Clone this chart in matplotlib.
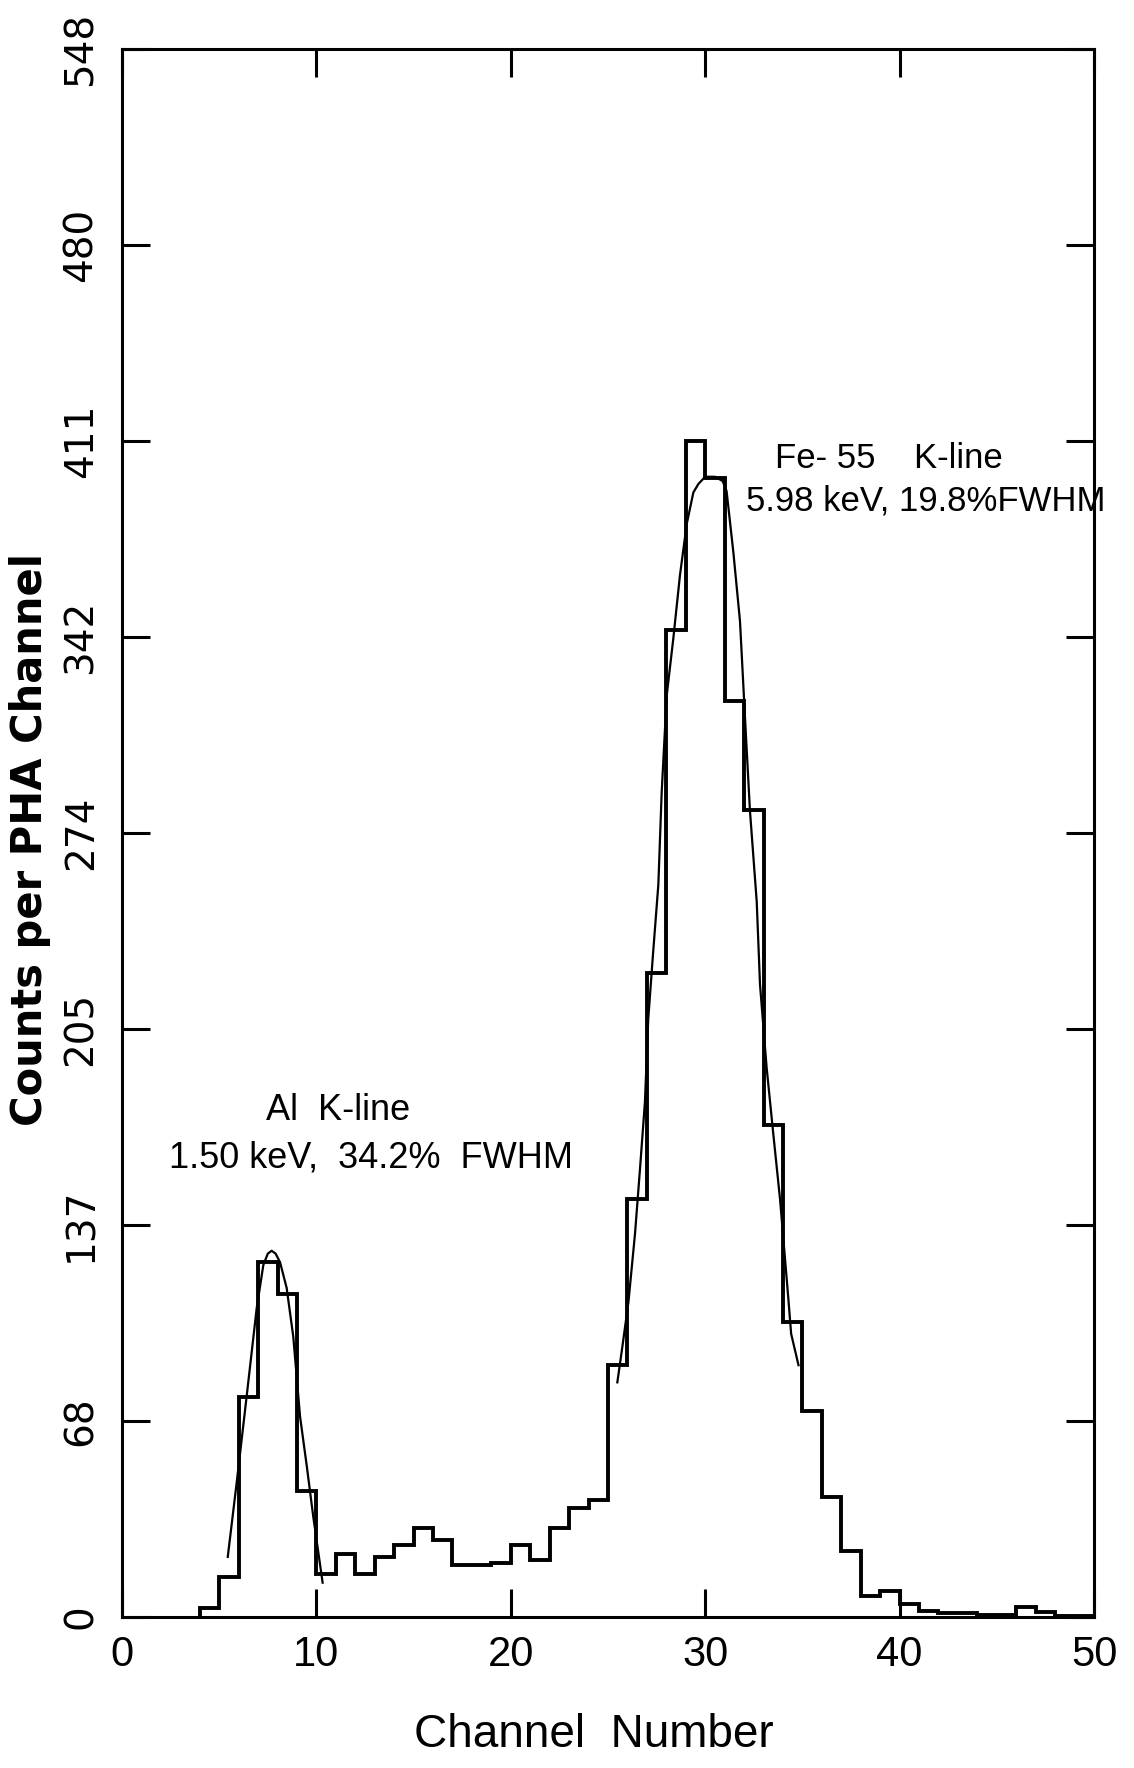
import numpy as np
import matplotlib
matplotlib.use("Agg")
import matplotlib.pyplot as plt

# PHA histogram, counts per channel (left bin edge = channel)
channels = [4, 5, 6, 7, 8, 9, 10, 11, 12, 13, 14, 15, 16, 17, 18, 19, 20, 21, 22, 23,
            24, 25, 26, 27, 28, 29, 30, 31, 32, 33, 34, 35, 36, 37, 38, 39, 40, 41, 42,
            43, 44, 45, 46, 47, 48, 49, 50]
counts = [3, 14, 77, 124, 113, 44, 15, 22, 15, 21, 25, 31, 27, 18, 18, 19, 25, 20, 31, 38,
          41, 88, 146, 225, 345, 411, 398, 320, 282, 172, 103, 72, 42, 23, 7.5, 9, 4.6, 2.2,
          1.5, 1.5, 0.7, 0.7, 3.6, 1.6, 0.4, 0.4]

# hand-drawn fit curves
al_fit_x = [5.44, 5.9, 6.41, 6.93, 7.27, 7.5, 7.7, 7.9, 8.13, 8.47, 8.81, 9.16, 9.5, 9.84, 10.32]
al_fit_y = [21, 47, 77, 108, 123, 127, 128, 127, 124, 115, 98, 70, 53, 35, 12]

fe_fit_x = [25.48, 25.75, 26.05, 26.39, 26.65, 26.9, 27.07, 27.33, 27.59, 27.76, 28.02,
            28.36, 28.7, 29.05, 29.39, 29.65, 30.0, 30.5, 30.9, 31.1, 31.45, 31.79, 32.05,
            32.3, 32.65, 32.82, 33.16, 33.5, 33.85, 34.28, 34.42, 34.8]
fe_fit_y = [82, 95, 110, 134, 157, 180, 209, 233, 256, 288, 322, 342, 364, 382, 393, 396,
            398.5, 398.5, 397, 393.5, 372, 348, 314, 282, 250, 221, 192, 169, 146, 111, 99, 88]

x_ticks = [0, 10, 20, 30, 40, 50]
y_tick_labels = ["0", "68", "137", "205", "274", "342", "411", "480", "548"]

narrow = ["Liberation Sans", "DejaVu Sans"]

fig = plt.figure(figsize=(11.34, 17.68), dpi=100)
ax = fig.add_axes([122 / 1134, 1 - 1617 / 1768, 972 / 1134, 1568 / 1768])

ax.stairs(counts, channels, baseline=0, color="black", lw=2.8)
ax.plot(al_fit_x, al_fit_y, color="black", lw=1.6)
ax.plot(fe_fit_x, fe_fit_y, color="black", lw=1.6)

ax.set_xlim(0, 50)
ax.set_ylim(0, 548)
ax.set_xticks(x_ticks)
ax.set_xticklabels([str(t) for t in x_ticks], family=narrow, fontsize=30)
ax.set_yticks(np.linspace(0, 548, len(y_tick_labels)))
ax.set_yticklabels(y_tick_labels, rotation=90, va="center", fontsize=28)
ax.tick_params(direction="in", length=20, width=2.2, top=True, right=True)
ax.tick_params(axis="x", pad=13)
ax.tick_params(axis="y", pad=16)
for s in ax.spines.values():
    s.set_linewidth(2.2)

ax.text(33.6, 405, "Fe- 55    K-line", fontsize=25, va="center", ha="left",
        family=narrow)
ax.text(32.1, 390, "5.98 keV, 19.8%FWHM", fontsize=25, va="center", ha="left",
        family=narrow)
ax.text(7.4, 177, "Al  K-line", fontsize=26, va="center", ha="left", family=narrow)
ax.text(2.4, 160.5, "1.50 keV,  34.2%  FWHM", fontsize=26, va="center", ha="left",
        family=narrow)

fig.text(30 / 1134, 1 - 840 / 1768, "Counts per PHA Channel", rotation=90,
         fontsize=30, fontweight="bold", ha="center", va="center")
fig.text(594 / 1134, 1 - 1735 / 1768, "Channel  Number", fontsize=33,
         ha="center", va="center", family=narrow)

fig.savefig("out.png", dpi=100)
